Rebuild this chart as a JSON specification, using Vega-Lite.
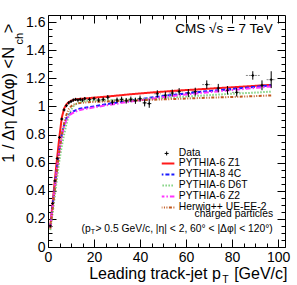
{
  "$schema": "https://vega.github.io/schema/vega-lite/v6.json",
  "width": 237,
  "height": 232,
  "autosize": {"type": "none"},
  "padding": {"left": 48, "top": 15, "right": 12, "bottom": 38},
  "background": "white",
  "config": {
    "view": {"stroke": "black", "strokeWidth": 1},
    "font": "Liberation Sans",
    "axis": {"labelFont": "Liberation Sans", "titleFont": "Liberation Sans", "domain": false, "grid": false, "tickColor": "black", "labelColor": "black", "titleColor": "black", "titleFontWeight": "normal", "labelOverlap": false, "labelFlush": false},
    "legend": {"labelFont": "Liberation Sans", "labelFontSize": 10.3, "labelColor": "black", "rowPadding": 0, "padding": 0, "titlePadding": 0},
    "text": {"font": "Liberation Sans", "color": "black"}
  },
  "datasets": {
    "meas": [
      {"x": 1, "y": 0.15, "xlo": 0.5, "xhi": 1.5, "ylo": 0.145, "yhi": 0.155},
      {"x": 2, "y": 0.31, "xlo": 1.5, "xhi": 2.5, "ylo": 0.305, "yhi": 0.315},
      {"x": 3, "y": 0.47, "xlo": 2.5, "xhi": 3.5, "ylo": 0.464, "yhi": 0.476},
      {"x": 4, "y": 0.63, "xlo": 3.5, "xhi": 4.5, "ylo": 0.624, "yhi": 0.636},
      {"x": 5, "y": 0.78, "xlo": 4.5, "xhi": 5.5, "ylo": 0.773, "yhi": 0.787},
      {"x": 6, "y": 0.91, "xlo": 5.5, "xhi": 6.5, "ylo": 0.902, "yhi": 0.918},
      {"x": 7, "y": 0.975, "xlo": 6.5, "xhi": 7.5, "ylo": 0.967, "yhi": 0.983},
      {"x": 8, "y": 1.005, "xlo": 7.5, "xhi": 8.5, "ylo": 0.997, "yhi": 1.013},
      {"x": 9, "y": 1.025, "xlo": 8.5, "xhi": 9.5, "ylo": 1.016, "yhi": 1.034},
      {"x": 10, "y": 1.035, "xlo": 9.5, "xhi": 10.5, "ylo": 1.026, "yhi": 1.044},
      {"x": 11, "y": 1.045, "xlo": 10.5, "xhi": 11.5, "ylo": 1.035, "yhi": 1.055},
      {"x": 12, "y": 1.05, "xlo": 11.5, "xhi": 12.5, "ylo": 1.04, "yhi": 1.06},
      {"x": 13, "y": 1.045, "xlo": 12.5, "xhi": 13.5, "ylo": 1.035, "yhi": 1.055},
      {"x": 14, "y": 1.05, "xlo": 13.5, "xhi": 14.5, "ylo": 1.039, "yhi": 1.061},
      {"x": 15, "y": 1.045, "xlo": 14.5, "xhi": 15.5, "ylo": 1.034, "yhi": 1.056},
      {"x": 16, "y": 1.055, "xlo": 15, "xhi": 17, "ylo": 1.043, "yhi": 1.067},
      {"x": 18, "y": 1.05, "xlo": 17, "xhi": 19, "ylo": 1.038, "yhi": 1.062},
      {"x": 20, "y": 1.055, "xlo": 19, "xhi": 21, "ylo": 1.042, "yhi": 1.068},
      {"x": 22, "y": 1.045, "xlo": 21, "xhi": 23, "ylo": 1.031, "yhi": 1.059},
      {"x": 24, "y": 1.05, "xlo": 23, "xhi": 25, "ylo": 1.035, "yhi": 1.065},
      {"x": 26, "y": 1.065, "xlo": 25, "xhi": 27, "ylo": 1.049, "yhi": 1.081},
      {"x": 28, "y": 1.03, "xlo": 27, "xhi": 29, "ylo": 1.012, "yhi": 1.048},
      {"x": 30, "y": 1.045, "xlo": 29, "xhi": 31, "ylo": 1.027, "yhi": 1.063},
      {"x": 32, "y": 1.05, "xlo": 31, "xhi": 33, "ylo": 1.03, "yhi": 1.07},
      {"x": 34, "y": 1.04, "xlo": 33, "xhi": 35, "ylo": 1.02, "yhi": 1.06},
      {"x": 36, "y": 1.05, "xlo": 35, "xhi": 37, "ylo": 1.03, "yhi": 1.07},
      {"x": 38, "y": 1.04, "xlo": 37, "xhi": 39, "ylo": 1.018, "yhi": 1.062},
      {"x": 40, "y": 1.055, "xlo": 39, "xhi": 41, "ylo": 1.033, "yhi": 1.077},
      {"x": 42, "y": 1.025, "xlo": 41, "xhi": 43, "ylo": 1.0, "yhi": 1.05},
      {"x": 44, "y": 1.02, "xlo": 43, "xhi": 45, "ylo": 0.99, "yhi": 1.05},
      {"x": 47.5, "y": 1.09, "xlo": 46, "xhi": 49, "ylo": 1.065, "yhi": 1.115},
      {"x": 51, "y": 1.08, "xlo": 49.5, "xhi": 52.5, "ylo": 1.055, "yhi": 1.105},
      {"x": 54, "y": 1.095, "xlo": 52.5, "xhi": 55.5, "ylo": 1.07, "yhi": 1.12},
      {"x": 57, "y": 1.105, "xlo": 55.5, "xhi": 58.5, "ylo": 1.08, "yhi": 1.13},
      {"x": 61, "y": 1.095, "xlo": 59.5, "xhi": 62.5, "ylo": 1.067, "yhi": 1.123},
      {"x": 64, "y": 1.105, "xlo": 62.5, "xhi": 65.5, "ylo": 1.077, "yhi": 1.133},
      {"x": 69, "y": 1.155, "xlo": 67, "xhi": 71, "ylo": 1.125, "yhi": 1.185},
      {"x": 74, "y": 1.13, "xlo": 72, "xhi": 76, "ylo": 1.1, "yhi": 1.16},
      {"x": 78, "y": 1.115, "xlo": 76, "xhi": 80, "ylo": 1.085, "yhi": 1.145},
      {"x": 82, "y": 1.1, "xlo": 80, "xhi": 84, "ylo": 1.07, "yhi": 1.13},
      {"x": 89, "y": 1.22, "xlo": 86, "xhi": 92, "ylo": 1.19, "yhi": 1.25},
      {"x": 93, "y": 1.15, "xlo": 91, "xhi": 95, "ylo": 1.115, "yhi": 1.185},
      {"x": 97, "y": 1.19, "xlo": 95, "xhi": 99, "ylo": 1.13, "yhi": 1.25}
    ],
    "curves": [
      {"model": "PYTHIA-6 Z1", "x": 1, "y": 0.15}, {"model": "PYTHIA-6 Z1", "x": 2, "y": 0.31}, {"model": "PYTHIA-6 Z1", "x": 3, "y": 0.48}, {"model": "PYTHIA-6 Z1", "x": 4, "y": 0.64}, {"model": "PYTHIA-6 Z1", "x": 5, "y": 0.79}, {"model": "PYTHIA-6 Z1", "x": 6, "y": 0.92}, {"model": "PYTHIA-6 Z1", "x": 7, "y": 0.985}, {"model": "PYTHIA-6 Z1", "x": 8, "y": 1.015}, {"model": "PYTHIA-6 Z1", "x": 9, "y": 1.03}, {"model": "PYTHIA-6 Z1", "x": 10, "y": 1.04}, {"model": "PYTHIA-6 Z1", "x": 12, "y": 1.05}, {"model": "PYTHIA-6 Z1", "x": 15, "y": 1.055}, {"model": "PYTHIA-6 Z1", "x": 20, "y": 1.062}, {"model": "PYTHIA-6 Z1", "x": 27, "y": 1.072}, {"model": "PYTHIA-6 Z1", "x": 35, "y": 1.085}, {"model": "PYTHIA-6 Z1", "x": 46, "y": 1.1}, {"model": "PYTHIA-6 Z1", "x": 56, "y": 1.112}, {"model": "PYTHIA-6 Z1", "x": 66, "y": 1.122}, {"model": "PYTHIA-6 Z1", "x": 76, "y": 1.132}, {"model": "PYTHIA-6 Z1", "x": 86, "y": 1.142}, {"model": "PYTHIA-6 Z1", "x": 97, "y": 1.153},
      {"model": "PYTHIA-8 4C", "x": 1, "y": 0.14}, {"model": "PYTHIA-8 4C", "x": 2, "y": 0.29}, {"model": "PYTHIA-8 4C", "x": 3, "y": 0.44}, {"model": "PYTHIA-8 4C", "x": 4, "y": 0.58}, {"model": "PYTHIA-8 4C", "x": 5, "y": 0.7}, {"model": "PYTHIA-8 4C", "x": 6, "y": 0.8}, {"model": "PYTHIA-8 4C", "x": 7, "y": 0.87}, {"model": "PYTHIA-8 4C", "x": 8, "y": 0.915}, {"model": "PYTHIA-8 4C", "x": 9, "y": 0.94}, {"model": "PYTHIA-8 4C", "x": 10, "y": 0.955}, {"model": "PYTHIA-8 4C", "x": 11, "y": 0.965}, {"model": "PYTHIA-8 4C", "x": 13, "y": 0.98}, {"model": "PYTHIA-8 4C", "x": 16, "y": 0.99}, {"model": "PYTHIA-8 4C", "x": 20, "y": 1.0}, {"model": "PYTHIA-8 4C", "x": 27, "y": 1.02}, {"model": "PYTHIA-8 4C", "x": 35, "y": 1.04}, {"model": "PYTHIA-8 4C", "x": 46, "y": 1.065}, {"model": "PYTHIA-8 4C", "x": 56, "y": 1.085}, {"model": "PYTHIA-8 4C", "x": 66, "y": 1.103}, {"model": "PYTHIA-8 4C", "x": 76, "y": 1.118}, {"model": "PYTHIA-8 4C", "x": 86, "y": 1.133}, {"model": "PYTHIA-8 4C", "x": 97, "y": 1.15},
      {"model": "PYTHIA-6 D6T", "x": 1, "y": 0.12}, {"model": "PYTHIA-6 D6T", "x": 2, "y": 0.24}, {"model": "PYTHIA-6 D6T", "x": 3, "y": 0.37}, {"model": "PYTHIA-6 D6T", "x": 4, "y": 0.5}, {"model": "PYTHIA-6 D6T", "x": 5, "y": 0.62}, {"model": "PYTHIA-6 D6T", "x": 6, "y": 0.72}, {"model": "PYTHIA-6 D6T", "x": 7, "y": 0.8}, {"model": "PYTHIA-6 D6T", "x": 8, "y": 0.875}, {"model": "PYTHIA-6 D6T", "x": 9, "y": 0.935}, {"model": "PYTHIA-6 D6T", "x": 10, "y": 0.975}, {"model": "PYTHIA-6 D6T", "x": 11, "y": 1.0}, {"model": "PYTHIA-6 D6T", "x": 12, "y": 1.015}, {"model": "PYTHIA-6 D6T", "x": 14, "y": 1.03}, {"model": "PYTHIA-6 D6T", "x": 17, "y": 1.04}, {"model": "PYTHIA-6 D6T", "x": 22, "y": 1.042}, {"model": "PYTHIA-6 D6T", "x": 30, "y": 1.046}, {"model": "PYTHIA-6 D6T", "x": 40, "y": 1.052}, {"model": "PYTHIA-6 D6T", "x": 50, "y": 1.06}, {"model": "PYTHIA-6 D6T", "x": 60, "y": 1.07}, {"model": "PYTHIA-6 D6T", "x": 70, "y": 1.08}, {"model": "PYTHIA-6 D6T", "x": 80, "y": 1.09}, {"model": "PYTHIA-6 D6T", "x": 90, "y": 1.098}, {"model": "PYTHIA-6 D6T", "x": 97, "y": 1.105},
      {"model": "PYTHIA-6 Z2", "x": 1, "y": 0.135}, {"model": "PYTHIA-6 Z2", "x": 2, "y": 0.28}, {"model": "PYTHIA-6 Z2", "x": 3, "y": 0.43}, {"model": "PYTHIA-6 Z2", "x": 4, "y": 0.57}, {"model": "PYTHIA-6 Z2", "x": 5, "y": 0.69}, {"model": "PYTHIA-6 Z2", "x": 6, "y": 0.79}, {"model": "PYTHIA-6 Z2", "x": 7, "y": 0.86}, {"model": "PYTHIA-6 Z2", "x": 8, "y": 0.905}, {"model": "PYTHIA-6 Z2", "x": 9, "y": 0.93}, {"model": "PYTHIA-6 Z2", "x": 10, "y": 0.945}, {"model": "PYTHIA-6 Z2", "x": 11, "y": 0.955}, {"model": "PYTHIA-6 Z2", "x": 13, "y": 0.97}, {"model": "PYTHIA-6 Z2", "x": 16, "y": 0.982}, {"model": "PYTHIA-6 Z2", "x": 20, "y": 0.993}, {"model": "PYTHIA-6 Z2", "x": 27, "y": 1.012}, {"model": "PYTHIA-6 Z2", "x": 35, "y": 1.032}, {"model": "PYTHIA-6 Z2", "x": 46, "y": 1.057}, {"model": "PYTHIA-6 Z2", "x": 56, "y": 1.078}, {"model": "PYTHIA-6 Z2", "x": 66, "y": 1.095}, {"model": "PYTHIA-6 Z2", "x": 76, "y": 1.11}, {"model": "PYTHIA-6 Z2", "x": 86, "y": 1.125}, {"model": "PYTHIA-6 Z2", "x": 97, "y": 1.142},
      {"model": "Herwig++ UE-EE-2", "x": 1, "y": 0.13}, {"model": "Herwig++ UE-EE-2", "x": 2, "y": 0.27}, {"model": "Herwig++ UE-EE-2", "x": 3, "y": 0.42}, {"model": "Herwig++ UE-EE-2", "x": 4, "y": 0.56}, {"model": "Herwig++ UE-EE-2", "x": 5, "y": 0.69}, {"model": "Herwig++ UE-EE-2", "x": 6, "y": 0.8}, {"model": "Herwig++ UE-EE-2", "x": 7, "y": 0.88}, {"model": "Herwig++ UE-EE-2", "x": 8, "y": 0.94}, {"model": "Herwig++ UE-EE-2", "x": 9, "y": 0.98}, {"model": "Herwig++ UE-EE-2", "x": 10, "y": 1.0}, {"model": "Herwig++ UE-EE-2", "x": 11, "y": 1.012}, {"model": "Herwig++ UE-EE-2", "x": 13, "y": 1.022}, {"model": "Herwig++ UE-EE-2", "x": 16, "y": 1.028}, {"model": "Herwig++ UE-EE-2", "x": 20, "y": 1.032}, {"model": "Herwig++ UE-EE-2", "x": 30, "y": 1.038}, {"model": "Herwig++ UE-EE-2", "x": 40, "y": 1.044}, {"model": "Herwig++ UE-EE-2", "x": 50, "y": 1.05}, {"model": "Herwig++ UE-EE-2", "x": 60, "y": 1.056}, {"model": "Herwig++ UE-EE-2", "x": 70, "y": 1.062}, {"model": "Herwig++ UE-EE-2", "x": 80, "y": 1.067}, {"model": "Herwig++ UE-EE-2", "x": 90, "y": 1.073}, {"model": "Herwig++ UE-EE-2", "x": 97, "y": 1.078}
    ]
  },
  "layer": [
    {
      "data": {"name": "meas"},
      "mark": {"type": "rule", "color": "#888888", "strokeWidth": 1, "strokeDash": [2, 1]},
      "encoding": {
        "x": {"field": "xlo", "type": "quantitative", "scale": {"domain": [0, 103], "nice": false, "zero": false},
          "axis": {"orient": "bottom", "values": [0,5,10,15,20,25,30,35,40,45,50,55,60,65,70,75,80,85,90,95,100],
            "labelExpr": "datum.value % 20 === 0 ? format(datum.value, 'd') : ''",
            "tickSize": {"condition": {"test": "datum.value % 20 === 0", "value": -8}, "value": -4},
            "labelPadding": 11, "labelFontSize": 14,
            "title": "Leading track-jet p\u00a0\u00a0\u00a0[GeV/c]", "titleFontSize": 16, "titleAnchor": "end", "titleAlign": "right", "titleBaseline": "alphabetic", "titleX": 239, "titleY": 31}},
        "x2": {"field": "xhi"},
        "y": {"field": "y", "type": "quantitative", "scale": {"domain": [0, 1.65], "nice": false, "zero": false},
          "axis": {"orient": "left", "values": [0,0.05,0.1,0.15,0.2,0.25,0.3,0.35,0.4,0.45,0.5,0.55,0.6,0.65,0.7,0.75,0.8,0.85,0.9,0.95,1,1.05,1.1,1.15,1.2,1.25,1.3,1.35,1.4,1.45,1.5,1.55,1.6],
            "labelExpr": "abs(datum.value*5 - round(datum.value*5)) < 1e-6 ? format(datum.value, '~g') : ''",
            "tickSize": {"condition": {"test": "abs(datum.value*5 - round(datum.value*5)) < 1e-6", "value": -8}, "value": -4},
            "labelPadding": 11, "labelFontSize": 14,
            "title": "1 / Δη Δ(Δφ)  <N\u00a0\u00a0\u00a0>", "titleFontSize": 16.5, "titleAnchor": "end", "titleAlign": "right", "titleBaseline": "alphabetic", "titleAngle": 270, "titleX": -34.5, "titleY": 8}}
      }
    },
    {
      "data": {"name": "curves"},
      "mark": {"type": "line", "strokeWidth": 2},
      "encoding": {
        "x": {"field": "x", "type": "quantitative",
          "axis": {"orient": "top", "values": [0,5,10,15,20,25,30,35,40,45,50,55,60,65,70,75,80,85,90,95,100], "labels": false, "title": null,
            "tickSize": {"condition": {"test": "datum.value % 20 === 0", "value": -8}, "value": -4}}},
        "y": {"field": "y", "type": "quantitative",
          "axis": {"orient": "right", "values": [0,0.05,0.1,0.15,0.2,0.25,0.3,0.35,0.4,0.45,0.5,0.55,0.6,0.65,0.7,0.75,0.8,0.85,0.9,0.95,1,1.05,1.1,1.15,1.2,1.25,1.3,1.35,1.4,1.45,1.5,1.55,1.6], "labels": false, "title": null,
            "tickSize": {"condition": {"test": "abs(datum.value*5 - round(datum.value*5)) < 1e-6", "value": -8}, "value": -4}}},
        "color": {"field": "model", "type": "nominal",
          "scale": {"domain": ["PYTHIA-6 Z1", "PYTHIA-8 4C", "PYTHIA-6 D6T", "PYTHIA-6 Z2", "Herwig++ UE-EE-2"], "range": ["#ff1a1a", "#1a1aff", "#7fd17f", "#ff33ff", "#c0581e"]},
          "legend": {"orient": "none", "legendX": 113.75, "legendY": 143.3, "title": null, "symbolType": "M-2,0H2", "symbolSize": 56, "symbolStrokeWidth": 2, "labelOffset": 6.75, "labelFontSize": 10.3, "rowPadding": 0, "clipHeight": 10.3}},
        "strokeDash": {"field": "model", "type": "nominal",
          "scale": {"domain": ["PYTHIA-6 Z1", "PYTHIA-8 4C", "PYTHIA-6 D6T", "PYTHIA-6 Z2", "Herwig++ UE-EE-2"], "range": [[1, 0], [4, 2], [1.5, 1.5], [5, 2, 1.5, 2], [3, 1.5, 1, 1.5, 1, 1.5]]},
          "legend": {"orient": "none", "legendX": 113.75, "legendY": 143.3, "title": null, "symbolType": "M-2,0H2", "symbolSize": 56, "symbolStrokeWidth": 2, "labelOffset": 6.75, "labelFontSize": 10.3, "rowPadding": 0, "clipHeight": 10.3}}
      }
    },
    {
      "data": {"name": "meas"},
      "mark": {"type": "rule", "color": "black", "strokeWidth": 1},
      "encoding": {
        "x": {"field": "x", "type": "quantitative", "axis": null},
        "y": {"field": "ylo", "type": "quantitative", "axis": null},
        "y2": {"field": "yhi"}
      }
    },
    {
      "data": {"name": "meas"},
      "mark": {"type": "point", "filled": false, "color": "black", "strokeWidth": 1, "opacity": 1, "size": 9},
      "encoding": {
        "x": {"field": "x", "type": "quantitative", "axis": null},
        "y": {"field": "y", "type": "quantitative", "axis": null},
        "shape": {"datum": "Data", "scale": {"range": ["M-1,0H1M0,-1V1"]},
          "legend": {"orient": "none", "legendX": 113.5, "legendY": 133.3, "title": null, "symbolSize": 16, "symbolStrokeColor": "black", "symbolStrokeWidth": 1, "labelOffset": 7, "labelFontSize": 10.3, "clipHeight": 10.3}}
      }
    },
    {
      "data": {"values": [{}]},
      "mark": {"type": "text", "text": "CMS √s = 7 TeV", "fontSize": 13.5, "align": "right", "baseline": "middle"},
      "encoding": {"x": {"datum": 97.7, "type": "quantitative", "axis": null}, "y": {"datum": 1.548, "type": "quantitative", "axis": null}}
    },
    {
      "data": {"values": [{}]},
      "mark": {"type": "text", "text": "charged particles", "fontSize": 10.3, "align": "right", "baseline": "middle"},
      "encoding": {"x": {"datum": 97.8, "type": "quantitative", "axis": null}, "y": {"datum": 0.235, "type": "quantitative", "axis": null}}
    },
    {
      "data": {"values": [{}]},
      "mark": {"type": "text", "text": "(p", "fontSize": 10.3, "align": "left", "baseline": "middle"},
      "encoding": {"x": {"datum": 14.6, "type": "quantitative", "axis": null}, "y": {"datum": 0.126, "type": "quantitative", "axis": null}}
    },
    {
      "data": {"values": [{}]},
      "mark": {"type": "text", "text": "T", "fontSize": 7, "align": "left", "baseline": "middle"},
      "encoding": {"x": {"datum": 18.6, "type": "quantitative", "axis": null}, "y": {"datum": 0.105, "type": "quantitative", "axis": null}}
    },
    {
      "data": {"values": [{}]},
      "mark": {"type": "text", "text": "> 0.5 GeV/c, |η| < 2, 60° < |Δφ| < 120°)", "fontSize": 10.3, "align": "right", "baseline": "middle"},
      "encoding": {"x": {"datum": 97.7, "type": "quantitative", "axis": null}, "y": {"datum": 0.126, "type": "quantitative", "axis": null}}
    },
    {
      "data": {"values": [{}]},
      "mark": {"type": "text", "text": "T", "fontSize": 10.5, "align": "left", "baseline": "alphabetic"},
      "encoding": {"x": {"datum": 75.7, "type": "quantitative", "axis": null}, "y": {"datum": -0.256, "type": "quantitative", "axis": null}}
    },
    {
      "data": {"values": [{}]},
      "mark": {"type": "text", "text": "ch", "fontSize": 11, "angle": 270, "align": "center", "baseline": "alphabetic"},
      "encoding": {"x": {"datum": -10.9, "type": "quantitative", "axis": null}, "y": {"datum": 1.481, "type": "quantitative", "axis": null}}
    }
  ],
  "resolve": {"axis": {"x": "independent", "y": "independent"}}
}
